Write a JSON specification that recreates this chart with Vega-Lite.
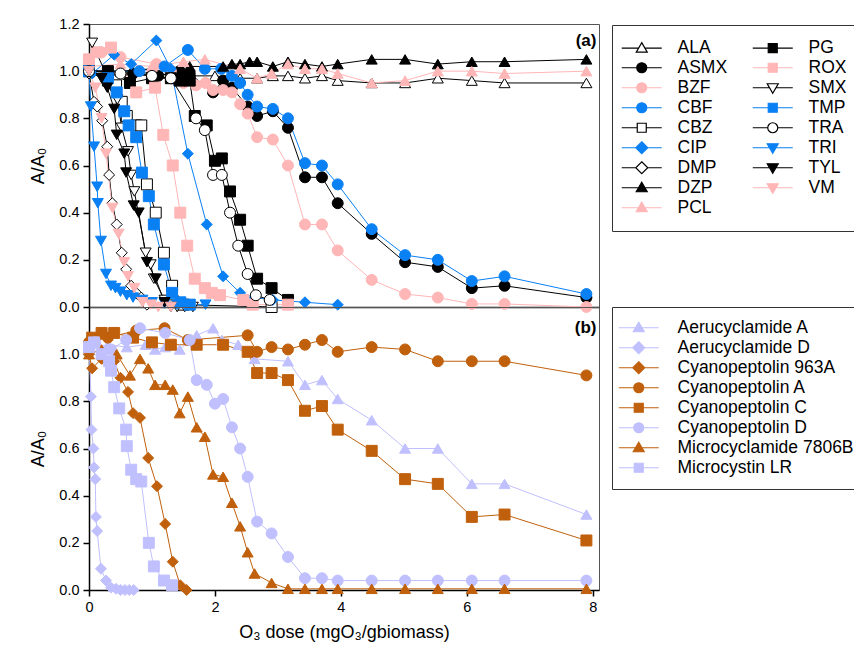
{
  "$schema": "https://vega.github.io/schema/vega-lite/v6.json",
  "padding": {"left": 29, "top": 15, "right": 0, "bottom": 5},
  "background": "white",
  "spacing": 0,
  "bounds": "flush",
  "datasets": {
    "top": [
      {"s":"ALA","x":0,"y":1.0},{"s":"ALA","x":0.5,"y":1.0},{"s":"ALA","x":1.0,"y":0.99},{"s":"ALA","x":1.5,"y":0.98},{"s":"ALA","x":2.0,"y":0.98},{"s":"ALA","x":2.4,"y":0.97},{"s":"ALA","x":2.67,"y":0.97},{"s":"ALA","x":2.92,"y":0.98},{"s":"ALA","x":3.16,"y":0.98},{"s":"ALA","x":3.43,"y":0.97},{"s":"ALA","x":3.7,"y":0.98},{"s":"ALA","x":3.95,"y":0.96},{"s":"ALA","x":4.49,"y":0.95},{"s":"ALA","x":5.02,"y":0.95},{"s":"ALA","x":5.54,"y":0.97},{"s":"ALA","x":6.08,"y":0.96},{"s":"ALA","x":6.6,"y":0.95},{"s":"ALA","x":7.9,"y":0.95},
      {"s":"ASMX","x":0,"y":1.0},{"s":"ASMX","x":0.3,"y":1.0},{"s":"ASMX","x":0.7,"y":0.99},{"s":"ASMX","x":1.1,"y":0.98},{"s":"ASMX","x":1.44,"y":1.0},{"s":"ASMX","x":1.6,"y":0.99},{"s":"ASMX","x":1.97,"y":0.91},{"s":"ASMX","x":2.13,"y":0.96},{"s":"ASMX","x":2.27,"y":0.93},{"s":"ASMX","x":2.52,"y":0.85},{"s":"ASMX","x":2.67,"y":0.81},{"s":"ASMX","x":2.92,"y":0.83},{"s":"ASMX","x":3.16,"y":0.76},{"s":"ASMX","x":3.43,"y":0.55},{"s":"ASMX","x":3.7,"y":0.55},{"s":"ASMX","x":3.95,"y":0.44},{"s":"ASMX","x":4.49,"y":0.31},{"s":"ASMX","x":5.02,"y":0.19},{"s":"ASMX","x":5.54,"y":0.17},{"s":"ASMX","x":6.08,"y":0.08},{"s":"ASMX","x":6.6,"y":0.09},{"s":"ASMX","x":7.9,"y":0.04},
      {"s":"BZF","x":0,"y":1.05},{"s":"BZF","x":0.2,"y":1.08},{"s":"BZF","x":0.5,"y":1.06},{"s":"BZF","x":1.07,"y":1.03},{"s":"BZF","x":1.3,"y":1.0},{"s":"BZF","x":1.5,"y":0.95},{"s":"BZF","x":1.7,"y":0.94},{"s":"BZF","x":1.85,"y":0.95},{"s":"BZF","x":1.97,"y":0.92},{"s":"BZF","x":2.13,"y":0.92},{"s":"BZF","x":2.27,"y":0.91},{"s":"BZF","x":2.4,"y":0.86},{"s":"BZF","x":2.52,"y":0.82},{"s":"BZF","x":2.67,"y":0.72},{"s":"BZF","x":2.92,"y":0.71},{"s":"BZF","x":3.16,"y":0.6},{"s":"BZF","x":3.43,"y":0.35},{"s":"BZF","x":3.7,"y":0.35},{"s":"BZF","x":3.95,"y":0.24},{"s":"BZF","x":4.49,"y":0.115},{"s":"BZF","x":5.02,"y":0.055},{"s":"BZF","x":5.54,"y":0.04},{"s":"BZF","x":6.08,"y":0.013},{"s":"BZF","x":6.6,"y":0.013},{"s":"BZF","x":7.9,"y":0.0},
      {"s":"CBF","x":0,"y":1.0},{"s":"CBF","x":0.3,"y":1.0},{"s":"CBF","x":0.8,"y":1.0},{"s":"CBF","x":1.2,"y":1.02},{"s":"CBF","x":1.57,"y":1.09},{"s":"CBF","x":1.84,"y":1.01},{"s":"CBF","x":2.1,"y":1.01},{"s":"CBF","x":2.27,"y":0.98},{"s":"CBF","x":2.4,"y":0.95},{"s":"CBF","x":2.52,"y":0.9},{"s":"CBF","x":2.67,"y":0.85},{"s":"CBF","x":2.92,"y":0.84},{"s":"CBF","x":3.16,"y":0.8},{"s":"CBF","x":3.43,"y":0.61},{"s":"CBF","x":3.7,"y":0.6},{"s":"CBF","x":3.95,"y":0.52},{"s":"CBF","x":4.49,"y":0.33},{"s":"CBF","x":5.02,"y":0.22},{"s":"CBF","x":5.54,"y":0.2},{"s":"CBF","x":6.08,"y":0.11},{"s":"CBF","x":6.6,"y":0.13},{"s":"CBF","x":7.9,"y":0.055},
      {"s":"CBZ","x":0,"y":1.0},{"s":"CBZ","x":0.3,"y":0.96},{"s":"CBZ","x":0.43,"y":0.94},{"s":"CBZ","x":0.52,"y":0.87},{"s":"CBZ","x":0.6,"y":0.81},{"s":"CBZ","x":0.75,"y":0.77},{"s":"CBZ","x":0.83,"y":0.77},{"s":"CBZ","x":0.92,"y":0.52},{"s":"CBZ","x":1.06,"y":0.4},{"s":"CBZ","x":1.19,"y":0.23},{"s":"CBZ","x":1.32,"y":0.09},{"s":"CBZ","x":1.5,"y":0.01},{"s":"CBZ","x":2.9,"y":0.0},
      {"s":"CIP","x":0,"y":1.0},{"s":"CIP","x":0.05,"y":0.99},{"s":"CIP","x":0.4,"y":1.07},{"s":"CIP","x":0.67,"y":1.03},{"s":"CIP","x":1.07,"y":1.13},{"s":"CIP","x":1.3,"y":1.01},{"s":"CIP","x":1.57,"y":0.65},{"s":"CIP","x":1.87,"y":0.35},{"s":"CIP","x":2.13,"y":0.13},{"s":"CIP","x":2.4,"y":0.06},{"s":"CIP","x":2.63,"y":0.04},{"s":"CIP","x":2.92,"y":0.03},{"s":"CIP","x":3.43,"y":0.02},{"s":"CIP","x":3.95,"y":0.01},
      {"s":"DMP","x":0,"y":0.99},{"s":"DMP","x":0.08,"y":0.87},{"s":"DMP","x":0.13,"y":0.85},{"s":"DMP","x":0.21,"y":0.79},{"s":"DMP","x":0.29,"y":0.68},{"s":"DMP","x":0.32,"y":0.56},{"s":"DMP","x":0.37,"y":0.44},{"s":"DMP","x":0.44,"y":0.35},{"s":"DMP","x":0.52,"y":0.23},{"s":"DMP","x":0.59,"y":0.16},{"s":"DMP","x":0.67,"y":0.09},{"s":"DMP","x":0.75,"y":0.06},{"s":"DMP","x":0.83,"y":0.04},{"s":"DMP","x":0.92,"y":0.01},
      {"s":"DZP","x":0,"y":1.0},{"s":"DZP","x":0.5,"y":1.0},{"s":"DZP","x":1.0,"y":1.01},{"s":"DZP","x":1.6,"y":1.02},{"s":"DZP","x":2.13,"y":1.02},{"s":"DZP","x":2.27,"y":1.03},{"s":"DZP","x":2.4,"y":1.03},{"s":"DZP","x":2.55,"y":1.04},{"s":"DZP","x":2.67,"y":1.04},{"s":"DZP","x":2.92,"y":1.02},{"s":"DZP","x":3.16,"y":1.04},{"s":"DZP","x":3.43,"y":1.03},{"s":"DZP","x":3.7,"y":1.02},{"s":"DZP","x":3.95,"y":1.03},{"s":"DZP","x":4.49,"y":1.05},{"s":"DZP","x":5.02,"y":1.05},{"s":"DZP","x":5.54,"y":1.03},{"s":"DZP","x":6.08,"y":1.04},{"s":"DZP","x":6.6,"y":1.04},{"s":"DZP","x":7.9,"y":1.05},
      {"s":"PCL","x":0,"y":1.02},{"s":"PCL","x":0.5,"y":1.03},{"s":"PCL","x":1.0,"y":1.02},{"s":"PCL","x":1.5,"y":1.04},{"s":"PCL","x":1.84,"y":1.05},{"s":"PCL","x":2.4,"y":1.01},{"s":"PCL","x":2.67,"y":0.97},{"s":"PCL","x":2.9,"y":0.99},{"s":"PCL","x":3.16,"y":1.03},{"s":"PCL","x":3.43,"y":1.01},{"s":"PCL","x":3.7,"y":1.01},{"s":"PCL","x":3.95,"y":0.99},{"s":"PCL","x":4.49,"y":0.95},{"s":"PCL","x":5.02,"y":0.96},{"s":"PCL","x":5.54,"y":1.0},{"s":"PCL","x":6.08,"y":1.0},{"s":"PCL","x":6.6,"y":0.99},{"s":"PCL","x":7.9,"y":1.0},
      {"s":"PG","x":0,"y":1.0},{"s":"PG","x":0.3,"y":1.0},{"s":"PG","x":0.65,"y":0.95},{"s":"PG","x":1.0,"y":0.97},{"s":"PG","x":1.3,"y":0.97},{"s":"PG","x":1.44,"y":0.96},{"s":"PG","x":1.6,"y":0.96},{"s":"PG","x":1.68,"y":0.81},{"s":"PG","x":1.87,"y":0.77},{"s":"PG","x":2.0,"y":0.62},{"s":"PG","x":2.11,"y":0.63},{"s":"PG","x":2.24,"y":0.49},{"s":"PG","x":2.4,"y":0.37},{"s":"PG","x":2.52,"y":0.26},{"s":"PG","x":2.67,"y":0.12},{"s":"PG","x":2.9,"y":0.08},{"s":"PG","x":3.16,"y":0.03},
      {"s":"ROX","x":0,"y":1.05},{"s":"ROX","x":0.12,"y":1.08},{"s":"ROX","x":0.35,"y":1.1},{"s":"ROX","x":0.75,"y":0.91},{"s":"ROX","x":1.05,"y":0.93},{"s":"ROX","x":1.18,"y":0.73},{"s":"ROX","x":1.33,"y":0.6},{"s":"ROX","x":1.45,"y":0.4},{"s":"ROX","x":1.56,"y":0.26},{"s":"ROX","x":1.68,"y":0.12},{"s":"ROX","x":1.84,"y":0.08},{"s":"ROX","x":1.95,"y":0.06},{"s":"ROX","x":2.08,"y":0.05},{"s":"ROX","x":2.45,"y":0.03},{"s":"ROX","x":2.6,"y":0.01},{"s":"ROX","x":3.16,"y":0.01},
      {"s":"SMX","x":0.05,"y":1.12},{"s":"SMX","x":0.3,"y":0.97},{"s":"SMX","x":0.45,"y":0.88},{"s":"SMX","x":0.52,"y":0.76},{"s":"SMX","x":0.62,"y":0.66},{"s":"SMX","x":0.67,"y":0.56},{"s":"SMX","x":0.72,"y":0.49},{"s":"SMX","x":0.9,"y":0.23},{"s":"SMX","x":0.98,"y":0.18},{"s":"SMX","x":1.03,"y":0.12},{"s":"SMX","x":1.2,"y":0.03},{"s":"SMX","x":1.3,"y":0.01},{"s":"SMX","x":1.4,"y":0.0},{"s":"SMX","x":1.52,"y":0.0},{"s":"SMX","x":1.65,"y":0.0},
      {"s":"TMP","x":0,"y":1.0},{"s":"TMP","x":0.3,"y":0.97},{"s":"TMP","x":0.44,"y":0.91},{"s":"TMP","x":0.56,"y":0.83},{"s":"TMP","x":0.63,"y":0.77},{"s":"TMP","x":0.75,"y":0.72},{"s":"TMP","x":0.84,"y":0.57},{"s":"TMP","x":0.95,"y":0.47},{"s":"TMP","x":1.03,"y":0.35},{"s":"TMP","x":1.19,"y":0.18},{"s":"TMP","x":1.32,"y":0.06},{"s":"TMP","x":1.45,"y":0.02},{"s":"TMP","x":1.6,"y":0.01},
      {"s":"TRA","x":0,"y":1.0},{"s":"TRA","x":0.5,"y":0.99},{"s":"TRA","x":1.0,"y":0.98},{"s":"TRA","x":1.3,"y":0.97},{"s":"TRA","x":1.7,"y":0.8},{"s":"TRA","x":1.84,"y":0.75},{"s":"TRA","x":1.97,"y":0.56},{"s":"TRA","x":2.11,"y":0.56},{"s":"TRA","x":2.24,"y":0.4},{"s":"TRA","x":2.37,"y":0.26},{"s":"TRA","x":2.52,"y":0.14},{"s":"TRA","x":2.65,"y":0.05},{"s":"TRA","x":2.87,"y":0.03},
      {"s":"TRI","x":0,"y":1.0},{"s":"TRI","x":0.03,"y":0.85},{"s":"TRI","x":0.08,"y":0.68},{"s":"TRI","x":0.13,"y":0.51},{"s":"TRI","x":0.14,"y":0.44},{"s":"TRI","x":0.19,"y":0.28},{"s":"TRI","x":0.27,"y":0.14},{"s":"TRI","x":0.35,"y":0.09},{"s":"TRI","x":0.42,"y":0.08},{"s":"TRI","x":0.5,"y":0.065},{"s":"TRI","x":0.6,"y":0.05},{"s":"TRI","x":0.7,"y":0.04},{"s":"TRI","x":0.85,"y":0.03},{"s":"TRI","x":1.0,"y":0.02},{"s":"TRI","x":1.2,"y":0.015},{"s":"TRI","x":1.4,"y":0.01},{"s":"TRI","x":1.6,"y":0.01},{"s":"TRI","x":1.85,"y":0.01},
      {"s":"TYL","x":0,"y":1.0},{"s":"TYL","x":0.2,"y":0.97},{"s":"TYL","x":0.29,"y":0.93},{"s":"TYL","x":0.4,"y":0.84},{"s":"TYL","x":0.44,"y":0.73},{"s":"TYL","x":0.56,"y":0.65},{"s":"TYL","x":0.59,"y":0.57},{"s":"TYL","x":0.71,"y":0.43},{"s":"TYL","x":0.79,"y":0.4},{"s":"TYL","x":0.92,"y":0.19},{"s":"TYL","x":1.06,"y":0.12},{"s":"TYL","x":1.2,"y":0.02},{"s":"TYL","x":1.3,"y":0.0},
      {"s":"VM","x":0,"y":1.0},{"s":"VM","x":0.1,"y":0.93},{"s":"VM","x":0.2,"y":0.8},{"s":"VM","x":0.27,"y":0.65},{"s":"VM","x":0.37,"y":0.42},{"s":"VM","x":0.47,"y":0.31},{"s":"VM","x":0.56,"y":0.19},{"s":"VM","x":0.62,"y":0.13},{"s":"VM","x":0.72,"y":0.08},{"s":"VM","x":0.85,"y":0.02},{"s":"VM","x":0.98,"y":0.01},{"s":"VM","x":1.1,"y":0.0},{"s":"VM","x":1.3,"y":0.0}
    ],
    "bot": [
      {"s":"Aerucyclamide A","x":0,"y":1.02},{"s":"Aerucyclamide A","x":0.3,"y":1.04},{"s":"Aerucyclamide A","x":0.6,"y":1.03},{"s":"Aerucyclamide A","x":0.9,"y":1.04},{"s":"Aerucyclamide A","x":1.05,"y":1.02},{"s":"Aerucyclamide A","x":1.21,"y":1.03},{"s":"Aerucyclamide A","x":1.44,"y":1.02},{"s":"Aerucyclamide A","x":1.71,"y":1.08},{"s":"Aerucyclamide A","x":1.97,"y":1.11},{"s":"Aerucyclamide A","x":2.11,"y":1.06},{"s":"Aerucyclamide A","x":2.37,"y":1.04},{"s":"Aerucyclamide A","x":2.63,"y":0.98},{"s":"Aerucyclamide A","x":3.16,"y":0.97},{"s":"Aerucyclamide A","x":3.43,"y":0.87},{"s":"Aerucyclamide A","x":3.7,"y":0.89},{"s":"Aerucyclamide A","x":3.95,"y":0.81},{"s":"Aerucyclamide A","x":4.49,"y":0.72},{"s":"Aerucyclamide A","x":5.02,"y":0.6},{"s":"Aerucyclamide A","x":5.54,"y":0.6},{"s":"Aerucyclamide A","x":6.08,"y":0.45},{"s":"Aerucyclamide A","x":6.6,"y":0.45},{"s":"Aerucyclamide A","x":7.9,"y":0.32},
      {"s":"Aerucyclamide D","x":0,"y":1.05},{"s":"Aerucyclamide D","x":0.03,"y":0.82},{"s":"Aerucyclamide D","x":0.04,"y":0.68},{"s":"Aerucyclamide D","x":0.07,"y":0.6},{"s":"Aerucyclamide D","x":0.08,"y":0.52},{"s":"Aerucyclamide D","x":0.1,"y":0.47},{"s":"Aerucyclamide D","x":0.11,"y":0.31},{"s":"Aerucyclamide D","x":0.13,"y":0.25},{"s":"Aerucyclamide D","x":0.19,"y":0.09},{"s":"Aerucyclamide D","x":0.27,"y":0.04},{"s":"Aerucyclamide D","x":0.35,"y":0.01},{"s":"Aerucyclamide D","x":0.43,"y":0.005},{"s":"Aerucyclamide D","x":0.5,"y":0.0},{"s":"Aerucyclamide D","x":0.57,"y":0.0},{"s":"Aerucyclamide D","x":0.64,"y":0.0},{"s":"Aerucyclamide D","x":0.71,"y":0.0},
      {"s":"Cyanopeptolin 963A","x":0,"y":1.0},{"s":"Cyanopeptolin 963A","x":0.05,"y":0.94},{"s":"Cyanopeptolin 963A","x":0.2,"y":0.98},{"s":"Cyanopeptolin 963A","x":0.4,"y":0.97},{"s":"Cyanopeptolin 963A","x":0.5,"y":0.9},{"s":"Cyanopeptolin 963A","x":0.62,"y":0.84},{"s":"Cyanopeptolin 963A","x":0.7,"y":0.75},{"s":"Cyanopeptolin 963A","x":0.81,"y":0.73},{"s":"Cyanopeptolin 963A","x":0.94,"y":0.56},{"s":"Cyanopeptolin 963A","x":1.08,"y":0.44},{"s":"Cyanopeptolin 963A","x":1.21,"y":0.28},{"s":"Cyanopeptolin 963A","x":1.33,"y":0.12},{"s":"Cyanopeptolin 963A","x":1.45,"y":0.02},{"s":"Cyanopeptolin 963A","x":1.55,"y":0.0},
      {"s":"Cyanopeptolin A","x":0,"y":1.05},{"s":"Cyanopeptolin A","x":0.3,"y":1.07},{"s":"Cyanopeptolin A","x":0.75,"y":1.1},{"s":"Cyanopeptolin A","x":1.2,"y":1.11},{"s":"Cyanopeptolin A","x":1.57,"y":1.06},{"s":"Cyanopeptolin A","x":2.52,"y":1.08},{"s":"Cyanopeptolin A","x":2.67,"y":1.01},{"s":"Cyanopeptolin A","x":2.9,"y":1.03},{"s":"Cyanopeptolin A","x":3.16,"y":1.02},{"s":"Cyanopeptolin A","x":3.43,"y":1.04},{"s":"Cyanopeptolin A","x":3.7,"y":1.06},{"s":"Cyanopeptolin A","x":3.95,"y":1.01},{"s":"Cyanopeptolin A","x":4.49,"y":1.03},{"s":"Cyanopeptolin A","x":5.02,"y":1.02},{"s":"Cyanopeptolin A","x":5.54,"y":0.97},{"s":"Cyanopeptolin A","x":6.08,"y":0.97},{"s":"Cyanopeptolin A","x":6.6,"y":0.97},{"s":"Cyanopeptolin A","x":7.9,"y":0.91},
      {"s":"Cyanopeptolin C","x":0,"y":1.03},{"s":"Cyanopeptolin C","x":0.05,"y":1.07},{"s":"Cyanopeptolin C","x":0.2,"y":1.09},{"s":"Cyanopeptolin C","x":0.4,"y":1.09},{"s":"Cyanopeptolin C","x":0.7,"y":1.07},{"s":"Cyanopeptolin C","x":1.0,"y":1.05},{"s":"Cyanopeptolin C","x":1.3,"y":1.04},{"s":"Cyanopeptolin C","x":1.71,"y":1.04},{"s":"Cyanopeptolin C","x":2.13,"y":1.04},{"s":"Cyanopeptolin C","x":2.52,"y":1.01},{"s":"Cyanopeptolin C","x":2.67,"y":0.92},{"s":"Cyanopeptolin C","x":2.9,"y":0.92},{"s":"Cyanopeptolin C","x":3.16,"y":0.89},{"s":"Cyanopeptolin C","x":3.43,"y":0.76},{"s":"Cyanopeptolin C","x":3.7,"y":0.78},{"s":"Cyanopeptolin C","x":3.95,"y":0.68},{"s":"Cyanopeptolin C","x":4.49,"y":0.59},{"s":"Cyanopeptolin C","x":5.02,"y":0.47},{"s":"Cyanopeptolin C","x":5.54,"y":0.45},{"s":"Cyanopeptolin C","x":6.08,"y":0.31},{"s":"Cyanopeptolin C","x":6.6,"y":0.32},{"s":"Cyanopeptolin C","x":7.9,"y":0.21},
      {"s":"Cyanopeptolin D","x":0,"y":1.03},{"s":"Cyanopeptolin D","x":0.1,"y":1.05},{"s":"Cyanopeptolin D","x":0.35,"y":1.02},{"s":"Cyanopeptolin D","x":0.59,"y":1.06},{"s":"Cyanopeptolin D","x":0.81,"y":1.11},{"s":"Cyanopeptolin D","x":1.21,"y":1.09},{"s":"Cyanopeptolin D","x":1.6,"y":1.06},{"s":"Cyanopeptolin D","x":1.71,"y":0.89},{"s":"Cyanopeptolin D","x":1.87,"y":0.87},{"s":"Cyanopeptolin D","x":2.0,"y":0.79},{"s":"Cyanopeptolin D","x":2.13,"y":0.81},{"s":"Cyanopeptolin D","x":2.27,"y":0.69},{"s":"Cyanopeptolin D","x":2.4,"y":0.6},{"s":"Cyanopeptolin D","x":2.52,"y":0.48},{"s":"Cyanopeptolin D","x":2.67,"y":0.29},{"s":"Cyanopeptolin D","x":2.9,"y":0.24},{"s":"Cyanopeptolin D","x":3.16,"y":0.14},{"s":"Cyanopeptolin D","x":3.43,"y":0.05},{"s":"Cyanopeptolin D","x":3.7,"y":0.05},{"s":"Cyanopeptolin D","x":3.95,"y":0.04},{"s":"Cyanopeptolin D","x":4.49,"y":0.04},{"s":"Cyanopeptolin D","x":5.02,"y":0.04},{"s":"Cyanopeptolin D","x":5.54,"y":0.04},{"s":"Cyanopeptolin D","x":6.08,"y":0.04},{"s":"Cyanopeptolin D","x":6.6,"y":0.04},{"s":"Cyanopeptolin D","x":7.9,"y":0.04},
      {"s":"Microcyclamide 7806B","x":0,"y":1.0},{"s":"Microcyclamide 7806B","x":0.2,"y":1.02},{"s":"Microcyclamide 7806B","x":0.44,"y":1.0},{"s":"Microcyclamide 7806B","x":0.65,"y":0.91},{"s":"Microcyclamide 7806B","x":0.81,"y":0.98},{"s":"Microcyclamide 7806B","x":0.94,"y":0.94},{"s":"Microcyclamide 7806B","x":1.05,"y":0.87},{"s":"Microcyclamide 7806B","x":1.21,"y":0.87},{"s":"Microcyclamide 7806B","x":1.33,"y":0.85},{"s":"Microcyclamide 7806B","x":1.44,"y":0.75},{"s":"Microcyclamide 7806B","x":1.57,"y":0.82},{"s":"Microcyclamide 7806B","x":1.71,"y":0.69},{"s":"Microcyclamide 7806B","x":1.84,"y":0.65},{"s":"Microcyclamide 7806B","x":1.97,"y":0.49},{"s":"Microcyclamide 7806B","x":2.13,"y":0.48},{"s":"Microcyclamide 7806B","x":2.27,"y":0.37},{"s":"Microcyclamide 7806B","x":2.4,"y":0.27},{"s":"Microcyclamide 7806B","x":2.52,"y":0.16},{"s":"Microcyclamide 7806B","x":2.63,"y":0.07},{"s":"Microcyclamide 7806B","x":2.9,"y":0.03},{"s":"Microcyclamide 7806B","x":3.16,"y":0.005},{"s":"Microcyclamide 7806B","x":3.43,"y":0.005},{"s":"Microcyclamide 7806B","x":3.7,"y":0.005},{"s":"Microcyclamide 7806B","x":3.95,"y":0.005},{"s":"Microcyclamide 7806B","x":4.49,"y":0.005},{"s":"Microcyclamide 7806B","x":5.02,"y":0.005},{"s":"Microcyclamide 7806B","x":5.54,"y":0.005},{"s":"Microcyclamide 7806B","x":6.08,"y":0.005},{"s":"Microcyclamide 7806B","x":6.6,"y":0.005},{"s":"Microcyclamide 7806B","x":7.9,"y":0.005},
      {"s":"Microcystin LR","x":0,"y":1.03},{"s":"Microcystin LR","x":0.08,"y":1.05},{"s":"Microcystin LR","x":0.2,"y":1.0},{"s":"Microcystin LR","x":0.32,"y":0.97},{"s":"Microcystin LR","x":0.35,"y":0.93},{"s":"Microcystin LR","x":0.4,"y":0.86},{"s":"Microcystin LR","x":0.48,"y":0.77},{"s":"Microcystin LR","x":0.59,"y":0.68},{"s":"Microcystin LR","x":0.6,"y":0.61},{"s":"Microcystin LR","x":0.67,"y":0.51},{"s":"Microcystin LR","x":0.75,"y":0.47},{"s":"Microcystin LR","x":0.83,"y":0.46},{"s":"Microcystin LR","x":0.95,"y":0.2},{"s":"Microcystin LR","x":1.03,"y":0.1},{"s":"Microcystin LR","x":1.19,"y":0.04},{"s":"Microcystin LR","x":1.32,"y":0.02}
    ]
  },
  "vconcat": [
    {
      "width": 510,
      "height": 283,
      "resolve": {"scale": {"shape": "independent", "fill": "independent", "stroke": "independent"}},
      "layer": [
        {
          "data": {"name": "top"},
          "mark": {"type": "line", "strokeWidth": 1},
          "encoding": {
            "x": {"field": "x", "type": "quantitative", "scale": {"domain": [0, 8.1], "nice": false}, "axis": {"labels": false, "ticks": false, "title": null}},
            "y": {"field": "y", "type": "quantitative", "scale": {"domain": [0, 1.2], "nice": false, "zero": false}, "axis": {"values": [0, 0.2, 0.4, 0.6, 0.8, 1.0, 1.2], "format": ".1f", "title": "A/A₀"}},
            "color": {"field": "s", "type": "nominal", "legend": null, "scale": {"domain": ["ALA","ASMX","BZF","CBF","CBZ","CIP","DMP","DZP","PCL","PG","ROX","SMX","TMP","TRA","TRI","TYL","VM"], "range": ["#000000","#000000","#FFB6B6","#0A80F5","#000000","#0A80F5","#000000","#000000","#FFB6B6","#000000","#FFB6B6","#000000","#0A80F5","#000000","#0A80F5","#000000","#FFB6B6"]}}
          }
        },
        {
          "data": {"name": "top"},
          "mark": {"type": "point", "size": 120, "strokeWidth": 1, "opacity": 1},
          "encoding": {
            "x": {"field": "x", "type": "quantitative"},
            "y": {"field": "y", "type": "quantitative"},
            "shape": {"field": "s", "type": "nominal", "legend": null, "scale": {"domain": ["ALA","ASMX","BZF","CBF","CBZ","CIP","DMP","DZP","PCL","PG","ROX","SMX","TMP","TRA","TRI","TYL","VM"], "range": ["triangle-up","circle","circle","circle","square","diamond","diamond","triangle-up","triangle-up","square","square","triangle-down","square","circle","triangle-down","triangle-down","triangle-down"]}},
            "fill": {"field": "s", "type": "nominal", "legend": null, "scale": {"domain": ["ALA","ASMX","BZF","CBF","CBZ","CIP","DMP","DZP","PCL","PG","ROX","SMX","TMP","TRA","TRI","TYL","VM"], "range": ["#FFFFFF","#000000","#FFB6B6","#0A80F5","#FFFFFF","#0A80F5","#FFFFFF","#000000","#FFB6B6","#000000","#FFB6B6","#FFFFFF","#0A80F5","#FFFFFF","#0A80F5","#000000","#FFB6B6"]}},
            "stroke": {"field": "s", "type": "nominal", "legend": null, "scale": {"domain": ["ALA","ASMX","BZF","CBF","CBZ","CIP","DMP","DZP","PCL","PG","ROX","SMX","TMP","TRA","TRI","TYL","VM"], "range": ["#000000","#000000","#FFB6B6","#0A80F5","#000000","#0A80F5","#000000","#000000","#FFB6B6","#000000","#FFB6B6","#000000","#0A80F5","#000000","#0A80F5","#000000","#FFB6B6"]}}
          }
        },
        {
          "data": {"values": []},
          "mark": {"type": "point", "opacity": 1},
          "encoding": {
            "x": {"field": "x", "type": "quantitative"},
            "y": {"field": "y", "type": "quantitative"},
            "shape": {"field": "s", "type": "nominal",
              "legend": {"orient": "none", "legendX": 523, "legendY": 1, "columns": 2, "columnPadding": 22, "rowPadding": 1, "padding": 14, "symbolOffset": 7, "title": null, "symbolSize": 100, "symbolStrokeWidth": 1.2, "symbolFillColor": "white", "symbolStrokeColor": "black", "symbolOpacity": 1, "labelFontSize": 17.5, "labelOffset": 27, "strokeColor": "#333333"},
              "scale": {"domain": ["ALA","ASMX","BZF","CBF","CBZ","CIP","DMP","DZP","PCL","PG","ROX","SMX","TMP","TRA","TRI","TYL","VM"], "range": [
                "M-4,0L-0.64,0M0.64,0L4,0M0,-1.1L1.1,0.8L-1.1,0.8Z",
                "M-4,0L-1,0M1,0L4,0M-1,0A1,1,0,1,0,1,0A1,1,0,1,0,-1,0Z",
                "M-4,0L-1,0M1,0L4,0M-1,0A1,1,0,1,0,1,0A1,1,0,1,0,-1,0Z",
                "M-4,0L-1,0M1,0L4,0M-1,0A1,1,0,1,0,1,0A1,1,0,1,0,-1,0Z",
                "M-4,0L-0.9,0M0.9,0L4,0M-0.9,-0.9L0.9,-0.9L0.9,0.9L-0.9,0.9Z",
                "M-4,0L-1.2,0M1.2,0L4,0M0,-1.2L1.2,0L0,1.2L-1.2,0Z",
                "M-4,0L-1.2,0M1.2,0L4,0M0,-1.2L1.2,0L0,1.2L-1.2,0Z",
                "M-4,0L-0.64,0M0.64,0L4,0M0,-1.1L1.1,0.8L-1.1,0.8Z",
                "M-4,0L-0.64,0M0.64,0L4,0M0,-1.1L1.1,0.8L-1.1,0.8Z",
                "M-4,0L-0.9,0M0.9,0L4,0M-0.9,-0.9L0.9,-0.9L0.9,0.9L-0.9,0.9Z",
                "M-4,0L-0.9,0M0.9,0L4,0M-0.9,-0.9L0.9,-0.9L0.9,0.9L-0.9,0.9Z",
                "M-4,0L-0.64,0M0.64,0L4,0M0,1.1L1.1,-0.8L-1.1,-0.8Z",
                "M-4,0L-0.9,0M0.9,0L4,0M-0.9,-0.9L0.9,-0.9L0.9,0.9L-0.9,0.9Z",
                "M-4,0L-1,0M1,0L4,0M-1,0A1,1,0,1,0,1,0A1,1,0,1,0,-1,0Z",
                "M-4,0L-0.64,0M0.64,0L4,0M0,1.1L1.1,-0.8L-1.1,-0.8Z",
                "M-4,0L-0.64,0M0.64,0L4,0M0,1.1L1.1,-0.8L-1.1,-0.8Z",
                "M-4,0L-0.64,0M0.64,0L4,0M0,1.1L1.1,-0.8L-1.1,-0.8Z"]}},
            "fill": {"field": "s", "type": "nominal",
              "legend": {"orient": "none", "legendX": 523, "legendY": 1, "columns": 2, "columnPadding": 22, "rowPadding": 1, "padding": 14, "symbolOffset": 7, "title": null, "symbolSize": 100, "symbolStrokeWidth": 1.2, "symbolFillColor": "white", "symbolStrokeColor": "black", "symbolOpacity": 1, "labelFontSize": 17.5, "labelOffset": 27, "strokeColor": "#333333"},
              "scale": {"domain": ["ALA","ASMX","BZF","CBF","CBZ","CIP","DMP","DZP","PCL","PG","ROX","SMX","TMP","TRA","TRI","TYL","VM"], "range": ["#FFFFFF","#000000","#FFB6B6","#0A80F5","#FFFFFF","#0A80F5","#FFFFFF","#000000","#FFB6B6","#000000","#FFB6B6","#FFFFFF","#0A80F5","#FFFFFF","#0A80F5","#000000","#FFB6B6"]}},
            "stroke": {"field": "s", "type": "nominal",
              "legend": {"orient": "none", "legendX": 523, "legendY": 1, "columns": 2, "columnPadding": 22, "rowPadding": 1, "padding": 14, "symbolOffset": 7, "title": null, "symbolSize": 100, "symbolStrokeWidth": 1.2, "symbolFillColor": "white", "symbolStrokeColor": "black", "symbolOpacity": 1, "labelFontSize": 17.5, "labelOffset": 27, "strokeColor": "#333333"},
              "scale": {"domain": ["ALA","ASMX","BZF","CBF","CBZ","CIP","DMP","DZP","PCL","PG","ROX","SMX","TMP","TRA","TRI","TYL","VM"], "range": ["#000000","#000000","#FFB6B6","#0A80F5","#000000","#0A80F5","#000000","#000000","#FFB6B6","#000000","#FFB6B6","#000000","#0A80F5","#000000","#0A80F5","#000000","#FFB6B6"]}}
          }
        },
        {
          "data": {"values": [{"label": "(a)"}]},
          "mark": {"type": "text", "align": "right", "baseline": "middle", "fontSize": 17, "fontWeight": "bold"},
          "encoding": {
            "x": {"datum": 8.06, "type": "quantitative"},
            "y": {"datum": 1.13, "type": "quantitative"},
            "text": {"field": "label", "type": "nominal"}
          }
        }
      ]
    },
    {
      "width": 510,
      "height": 283,
      "resolve": {"scale": {"shape": "independent", "fill": "independent", "stroke": "independent"}},
      "layer": [
        {
          "data": {"name": "bot"},
          "mark": {"type": "line", "strokeWidth": 1},
          "encoding": {
            "x": {"field": "x", "type": "quantitative", "scale": {"domain": [0, 8.1], "nice": false}, "axis": {"values": [0, 2, 4, 6, 8], "format": "d", "title": "O₃ dose (mgO₃/gbiomass)", "titlePadding": 10}},
            "y": {"field": "y", "type": "quantitative", "scale": {"domain": [0, 1.2], "nice": false, "zero": false}, "axis": {"values": [0, 0.2, 0.4, 0.6, 0.8, 1.0], "format": ".1f", "title": "A/A₀"}},
            "color": {"field": "s", "type": "nominal", "legend": null, "scale": {"domain": ["Aerucyclamide A","Aerucyclamide D","Cyanopeptolin 963A","Cyanopeptolin A","Cyanopeptolin C","Cyanopeptolin D","Microcyclamide 7806B","Microcystin LR"], "range": ["#C0C0FF","#C0C0FF","#C0600C","#C0600C","#C0600C","#C0C0FF","#C0600C","#C0C0FF"]}}
          }
        },
        {
          "data": {"name": "bot"},
          "mark": {"type": "point", "size": 120, "strokeWidth": 1, "opacity": 1},
          "encoding": {
            "x": {"field": "x", "type": "quantitative"},
            "y": {"field": "y", "type": "quantitative"},
            "shape": {"field": "s", "type": "nominal", "legend": null, "scale": {"domain": ["Aerucyclamide A","Aerucyclamide D","Cyanopeptolin 963A","Cyanopeptolin A","Cyanopeptolin C","Cyanopeptolin D","Microcyclamide 7806B","Microcystin LR"], "range": ["triangle-up","diamond","diamond","circle","square","circle","triangle-up","square"]}},
            "fill": {"field": "s", "type": "nominal", "legend": null, "scale": {"domain": ["Aerucyclamide A","Aerucyclamide D","Cyanopeptolin 963A","Cyanopeptolin A","Cyanopeptolin C","Cyanopeptolin D","Microcyclamide 7806B","Microcystin LR"], "range": ["#C0C0FF","#C0C0FF","#C0600C","#C0600C","#C0600C","#C0C0FF","#C0600C","#C0C0FF"]}},
            "stroke": {"field": "s", "type": "nominal", "legend": null, "scale": {"domain": ["Aerucyclamide A","Aerucyclamide D","Cyanopeptolin 963A","Cyanopeptolin A","Cyanopeptolin C","Cyanopeptolin D","Microcyclamide 7806B","Microcystin LR"], "range": ["#C0C0FF","#C0C0FF","#C0600C","#C0600C","#C0600C","#C0C0FF","#C0600C","#C0C0FF"]}}
          }
        },
        {
          "data": {"values": []},
          "mark": {"type": "point", "opacity": 1},
          "encoding": {
            "x": {"field": "x", "type": "quantitative"},
            "y": {"field": "y", "type": "quantitative"},
            "shape": {"field": "s", "type": "nominal",
              "legend": {"orient": "none", "legendX": 523, "legendY": 0, "padding": 12, "rowPadding": 1, "symbolOffset": 6, "title": null, "symbolSize": 100, "symbolStrokeWidth": 1.2, "symbolFillColor": "white", "symbolStrokeColor": "black", "symbolOpacity": 1, "labelFontSize": 17.5, "labelOffset": 30, "strokeColor": "#333333"},
              "scale": {"domain": ["Aerucyclamide A","Aerucyclamide D","Cyanopeptolin 963A","Cyanopeptolin A","Cyanopeptolin C","Cyanopeptolin D","Microcyclamide 7806B","Microcystin LR"], "range": [
                "M-4,0L-0.64,0M0.64,0L4,0M0,-1.1L1.1,0.8L-1.1,0.8Z",
                "M-4,0L-1.2,0M1.2,0L4,0M0,-1.2L1.2,0L0,1.2L-1.2,0Z",
                "M-4,0L-1.2,0M1.2,0L4,0M0,-1.2L1.2,0L0,1.2L-1.2,0Z",
                "M-4,0L-1,0M1,0L4,0M-1,0A1,1,0,1,0,1,0A1,1,0,1,0,-1,0Z",
                "M-4,0L-0.9,0M0.9,0L4,0M-0.9,-0.9L0.9,-0.9L0.9,0.9L-0.9,0.9Z",
                "M-4,0L-1,0M1,0L4,0M-1,0A1,1,0,1,0,1,0A1,1,0,1,0,-1,0Z",
                "M-4,0L-0.64,0M0.64,0L4,0M0,-1.1L1.1,0.8L-1.1,0.8Z",
                "M-4,0L-0.9,0M0.9,0L4,0M-0.9,-0.9L0.9,-0.9L0.9,0.9L-0.9,0.9Z"]}},
            "fill": {"field": "s", "type": "nominal",
              "legend": {"orient": "none", "legendX": 523, "legendY": 0, "padding": 12, "rowPadding": 1, "symbolOffset": 6, "title": null, "symbolSize": 100, "symbolStrokeWidth": 1.2, "symbolFillColor": "white", "symbolStrokeColor": "black", "symbolOpacity": 1, "labelFontSize": 17.5, "labelOffset": 30, "strokeColor": "#333333"},
              "scale": {"domain": ["Aerucyclamide A","Aerucyclamide D","Cyanopeptolin 963A","Cyanopeptolin A","Cyanopeptolin C","Cyanopeptolin D","Microcyclamide 7806B","Microcystin LR"], "range": ["#C0C0FF","#C0C0FF","#C0600C","#C0600C","#C0600C","#C0C0FF","#C0600C","#C0C0FF"]}},
            "stroke": {"field": "s", "type": "nominal",
              "legend": {"orient": "none", "legendX": 523, "legendY": 0, "padding": 12, "rowPadding": 1, "symbolOffset": 6, "title": null, "symbolSize": 100, "symbolStrokeWidth": 1.2, "symbolFillColor": "white", "symbolStrokeColor": "black", "symbolOpacity": 1, "labelFontSize": 17.5, "labelOffset": 30, "strokeColor": "#333333"},
              "scale": {"domain": ["Aerucyclamide A","Aerucyclamide D","Cyanopeptolin 963A","Cyanopeptolin A","Cyanopeptolin C","Cyanopeptolin D","Microcyclamide 7806B","Microcystin LR"], "range": ["#C0C0FF","#C0C0FF","#C0600C","#C0600C","#C0600C","#C0C0FF","#C0600C","#C0C0FF"]}}
          }
        },
        {
          "data": {"values": [{"label": "(b)"}]},
          "mark": {"type": "text", "align": "right", "baseline": "middle", "fontSize": 17, "fontWeight": "bold"},
          "encoding": {
            "x": {"datum": 8.06, "type": "quantitative"},
            "y": {"datum": 1.11, "type": "quantitative"},
            "text": {"field": "label", "type": "nominal"}
          }
        }
      ]
    }
  ],
  "resolve": {"scale": {"color": "independent", "shape": "independent", "fill": "independent", "stroke": "independent"}, "legend": {"color": "independent", "shape": "independent", "fill": "independent", "stroke": "independent"}},
  "config": {
    "font": "Liberation Sans",
    "view": {"stroke": "#555555", "strokeWidth": 1},
    "axis": {"grid": false, "domainColor": "#000000", "domainWidth": 1.5, "tickColor": "#000000", "tickWidth": 1.5, "tickSize": 6, "labelFontSize": 14.5, "labelColor": "#000000", "labelFont": "Liberation Sans", "titleFont": "Liberation Sans", "titleFontSize": 18, "titleFontWeight": "normal", "titleColor": "#000000", "labelFlush": false, "labelPadding": 4, "titlePadding": 11},
    "legend": {"labelFont": "Liberation Sans", "labelColor": "#000000", "labelLimit": 400}
  }
}
